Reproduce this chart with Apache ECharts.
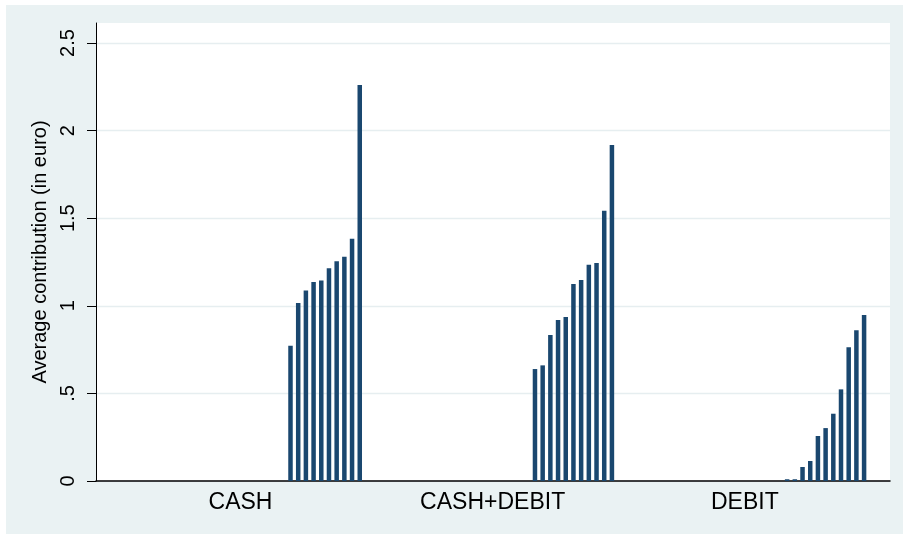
<!DOCTYPE html>
<html>
<head>
<meta charset="utf-8">
<script src="https://cdn.jsdelivr.net/npm/echarts@6/dist/echarts.min.js"></script>
<style>
  html, body { margin: 0; padding: 0; background: #ffffff; width: 905px; height: 534px; overflow: hidden; }
  #chart { position: absolute; left: 6px; top: 5px; width: 897px; height: 529px; }
</style>
</head>
<body>
<div id="chart"></div>
<script>
// ---- data ----
const categories = ['CASH', 'CASH+DEBIT', 'DEBIT'];
const cashValues = [0, 0, 0, 0, 0, 0, 0, 0, 0, 0, 0, 0, 0, 0, 0, 0, 0, 0, 0, 0, 0, 0,
  0.772, 1.016, 1.088, 1.136, 1.145, 1.214, 1.254, 1.280, 1.383, 2.260];
const cashDebitValues = [0, 0, 0, 0, 0, 0, 0, 0, 0, 0, 0, 0, 0, 0, 0, 0, 0, 0, 0, 0, 0,
  0.639, 0.660, 0.833, 0.919, 0.936, 1.124, 1.147, 1.235, 1.244, 1.543, 1.918];
const debitValues = [0, 0, 0, 0, 0, 0, 0, 0, 0, 0, 0, 0, 0, 0, 0, 0, 0, 0, 0, 0, 0,
  0.010, 0.010, 0.080, 0.114, 0.257, 0.302, 0.384, 0.523, 0.763, 0.860, 0.947];
const yTickValues = [0, 0.5, 1, 1.5, 2, 2.5];
const yTickLabels = ['0', '.5', '1', '1.5', '2', '2.5'];
const yTitle = 'Average contribution (in euro)';

// ---- build ----
const FONT = "'Liberation Sans', Arial, Helvetica, sans-serif";
const BAR = '#1a476f';
const Y_MAX = 2.5 * 458 / 438;

const series = [];
for (let i = 0; i < cashValues.length; i++) {
  series.push({
    type: 'bar',
    xAxisIndex: 1,
    yAxisIndex: 1,
    barWidth: 4.5,
    barGap: '71%',
    silent: true,
    itemStyle: { color: BAR },
    data: [cashValues[i], cashDebitValues[i], debitValues[i]]
  });
}

const chart = echarts.init(document.getElementById('chart'), null, { renderer: 'canvas' });
chart.setOption({
  animation: false,
  backgroundColor: '#eaf2f3',
  textStyle: { fontFamily: FONT },
  grid: [
    { left: 90, right: 13, top: 18, bottom: 53, show: true, backgroundColor: '#ffffff', borderWidth: 0 },
    { left: 108.4, right: 32.1, top: 18, bottom: 53, show: false }
  ],
  xAxis: [
    {
      gridIndex: 0, type: 'value', min: 0, max: 1,
      axisLine: { show: true, onZero: false, lineStyle: { color: '#000', width: 1.5 } },
      axisTick: { show: false }, axisLabel: { show: false }, splitLine: { show: false }
    },
    {
      gridIndex: 1, type: 'category', data: categories,
      axisLine: { show: false }, axisTick: { show: false }, splitLine: { show: false },
      axisLabel: { color: '#000', fontSize: 23, fontFamily: FONT, margin: 10, interval: 0 }
    }
  ],
  yAxis: [
    {
      gridIndex: 0, type: 'value', min: 0, max: Y_MAX,
      name: yTitle, nameLocation: 'middle', nameRotate: 90, nameGap: 40,
      nameTextStyle: { color: '#000', fontSize: 20, fontFamily: FONT },
      axisLine: { show: true, onZero: false, lineStyle: { color: '#000', width: 1 } },
      axisTick: { show: true, length: 9, customValues: yTickValues, lineStyle: { color: '#000', width: 1 } },
      axisLabel: {
        show: true, rotate: 90, margin: 18, color: '#000', fontSize: 20, fontFamily: FONT,
        customValues: yTickValues,
        formatter: function (v) {
          const k = yTickValues.findIndex(t => Math.abs(t - v) < 1e-9);
          return k >= 0 ? yTickLabels[k] : '';
        }
      },
      splitLine: { show: true, lineStyle: { color: '#e6eef0', width: 1.3 } }
    },
    {
      gridIndex: 1, type: 'value', min: 0, max: Y_MAX, show: false,
      splitLine: { show: false }
    }
  ],
  series: series
});
</script>
</body>
</html>
